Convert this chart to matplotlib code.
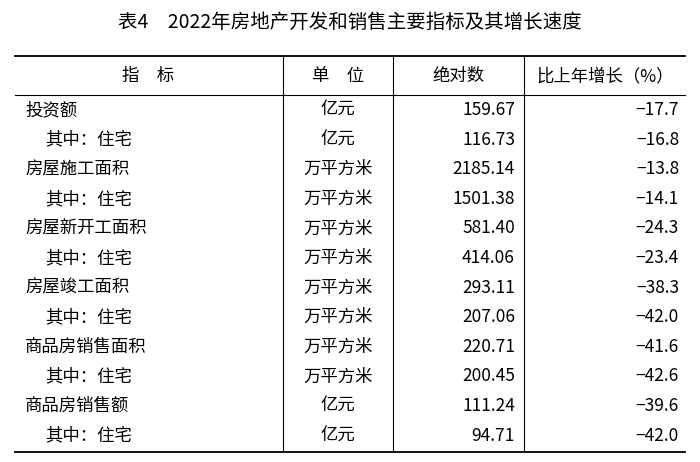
import matplotlib
matplotlib.use("Agg")
import matplotlib.pyplot as plt

plt.rcParams['font.family'] = ['Noto Sans CJK SC', 'DejaVu Sans']

title = "表4　2022年房地产开发和销售主要指标及其增长速度"
headers = ["指　标", "单　位", "绝对数", "比上年增长（%）"]
indicators = ["投资额", "其中：住宅", "房屋施工面积", "其中：住宅", "房屋新开工面积", "其中：住宅",
              "房屋竣工面积", "其中：住宅", "商品房销售面积", "其中：住宅", "商品房销售额", "其中：住宅"]
is_sub = [False, True] * 6
units = ["亿元", "亿元", "万平方米", "万平方米", "万平方米", "万平方米",
         "万平方米", "万平方米", "万平方米", "万平方米", "亿元", "亿元"]
values = ["159.67", "116.73", "2185.14", "1501.38", "581.40", "414.06",
          "293.11", "207.06", "220.71", "200.45", "111.24", "94.71"]
growth = ["-17.7", "-16.8", "-13.8", "-14.1", "-24.3", "-23.4",
          "-38.3", "-42.0", "-41.6", "-42.6", "-39.6", "-42.0"]

fig = plt.figure(figsize=(7, 4.62), dpi=100)
ax = fig.add_axes([0, 0, 1, 1])
ax.set_xlim(0, 700); ax.set_ylim(462, 0); ax.axis('off')

fs = 12.5
ax.text(350, 22, title, ha='center', va='center', fontsize=14)
ax.plot([15, 685], [56, 56], color='black', lw=1.3)
ax.plot([15, 685], [95, 95], color='black', lw=0.8)
ax.plot([15, 685], [452, 452], color='black', lw=1.3)
for x in [283, 393, 524]:
    ax.plot([x, x], [56, 452], color='black', lw=0.8)

hy = 76
ax.text(148, hy, headers[0], ha='center', va='center', fontsize=fs)
ax.text(338, hy, headers[1], ha='center', va='center', fontsize=fs)
ax.text(458, hy, headers[2], ha='center', va='center', fontsize=fs)
ax.text(605, hy, headers[3], ha='center', va='center', fontsize=fs)

for i in range(len(indicators)):
    y = 110 + i * 29.6
    ax.text(45 if is_sub[i] else 25, y, indicators[i], ha='left', va='center', fontsize=fs)
    ax.text(338, y, units[i], ha='center', va='center', fontsize=fs)
    ax.text(515, y, values[i], ha='right', va='center', fontsize=fs)
    ax.text(679, y, growth[i].replace('-', '−'), ha='right', va='center', fontsize=fs)

fig.savefig("out.png", dpi=100)
